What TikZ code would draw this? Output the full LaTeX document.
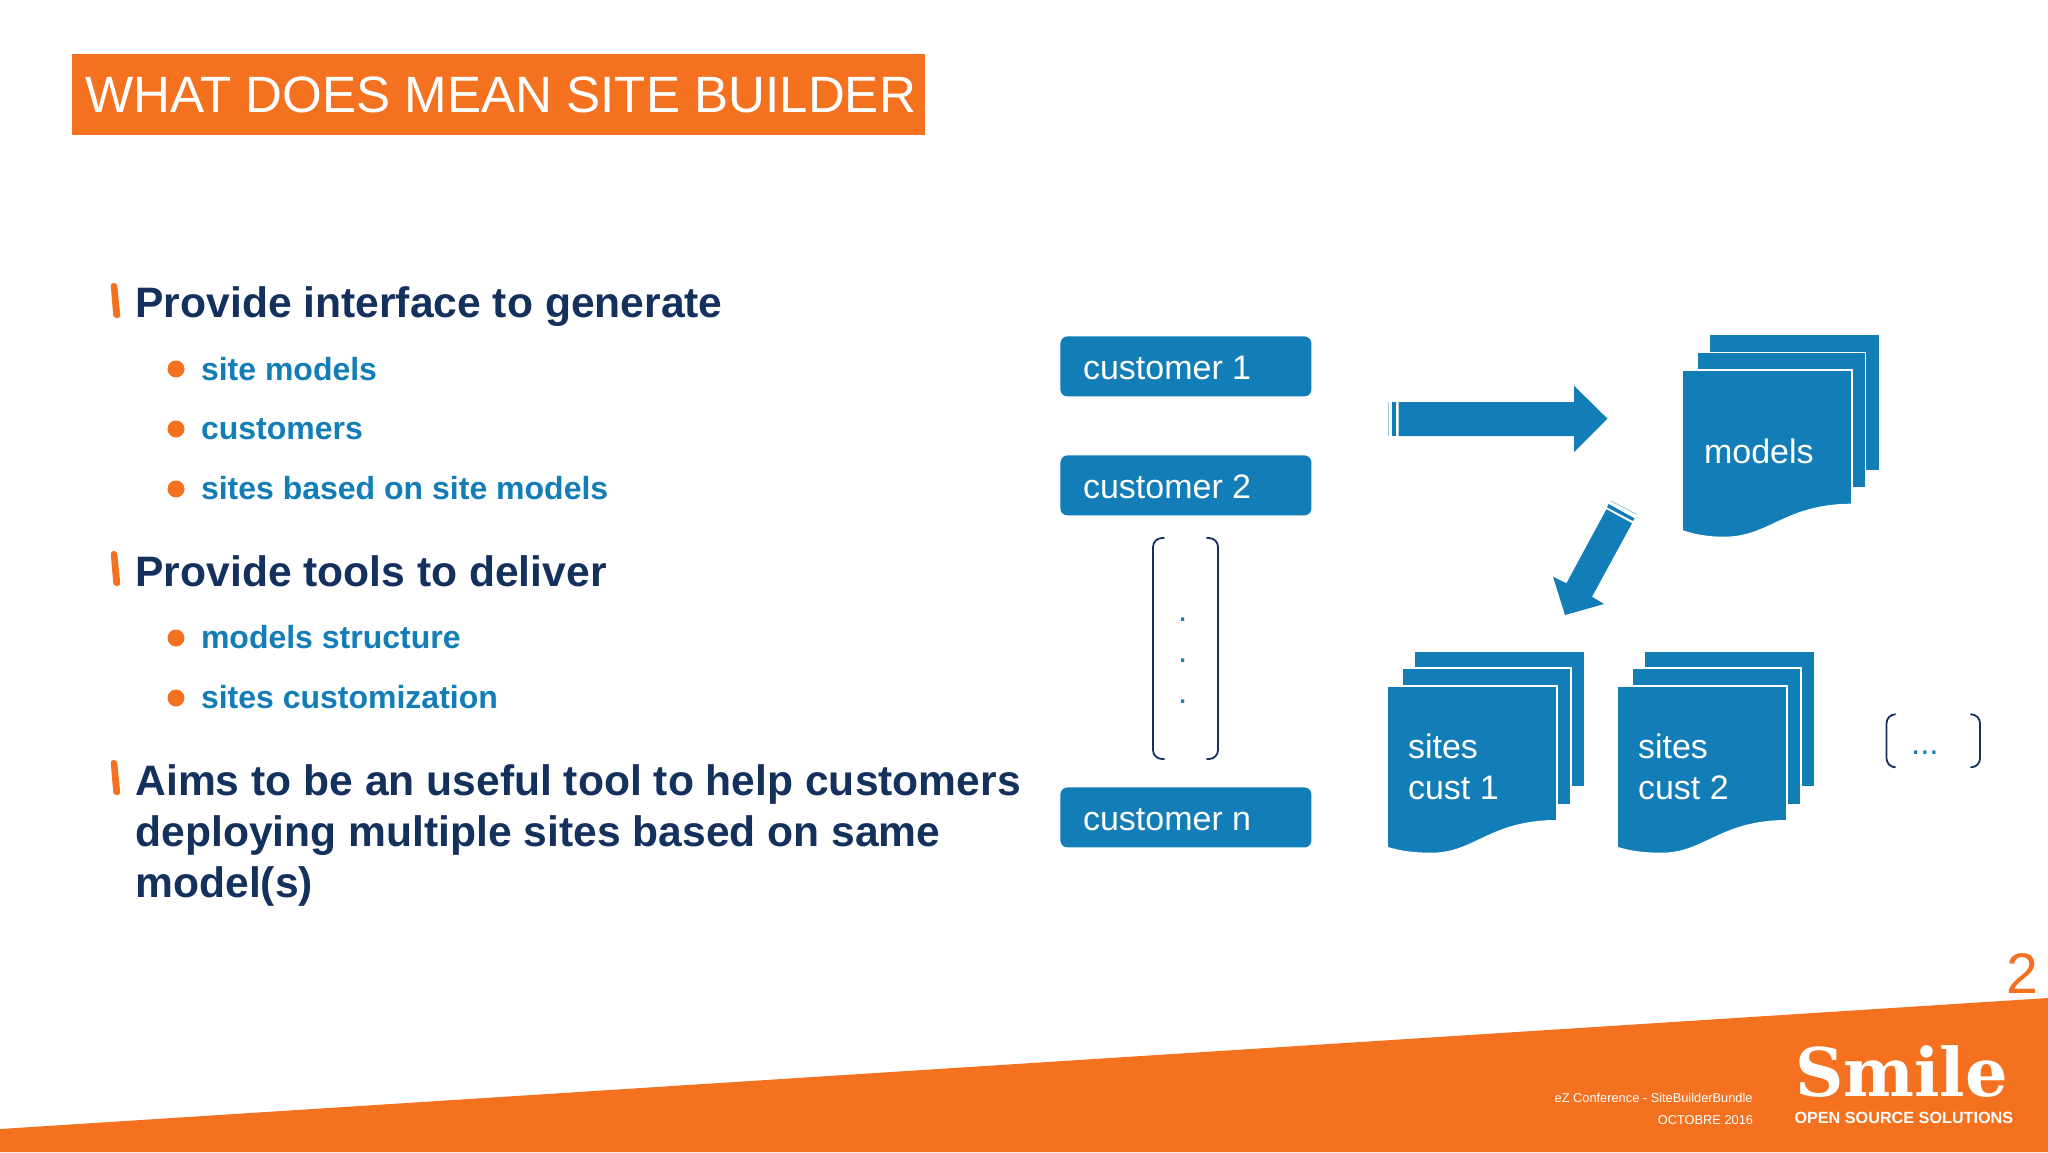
\documentclass[tikz,border=0pt]{standalone}
\usepackage{fontspec}
\setmainfont{Liberation Sans}
\newfontfamily\slabfont{DejaVu Serif}
\definecolor{smorange}{HTML}{F47120}
\definecolor{smblue}{HTML}{127DB6}
\definecolor{smnavy}{HTML}{14315E}
\tikzset{
  txt/.style={inner sep=0pt,outer sep=0pt,anchor=base west},
  txtr/.style={inner sep=0pt,outer sep=0pt,anchor=base east},
  head/.style={txt,font=\fontsize{21.3}{25}\selectfont\bfseries,text=smnavy},
  sub/.style={txt,font=\fontsize{16}{19}\selectfont\bfseries,text=smblue},
  wlabel/.style={txt,font=\fontsize{17}{20}\selectfont,text=white},
  custbox/.style={draw=none,fill=smblue,rounded corners=3.5pt,minimum width=125.5pt,minimum height=30pt,inner sep=0pt,anchor=north west},
  bul/.style={circle,fill=smorange,minimum size=8.5pt,inner sep=0pt},
  sheet/.style={fill=smblue,draw=white,line width=0.8pt},
  brack/.style={draw=smnavy,line width=0.9pt,line cap=round,rounded corners=4.5pt},
}
\begin{document}
\begin{tikzpicture}[x=0.5pt,y=-0.5pt]
\useasboundingbox (0,0) rectangle (2048,1152);
\fill[white] (0,0) rectangle (2048,1152);
% footer
\fill[smorange] (0,1129) -- (2048,998) -- (2048,1152) -- (0,1152) -- cycle;
% title
\fill[smorange] (72,54) rectangle (925,135);
\node[txt,text=white,font=\fontsize{25.55}{30}\selectfont] (title) at (85,112) {WHAT DOES MEAN SITE BUILDER};
% left text
\foreach \dy in {0,268,477}{
  \fill[smorange,rounded corners=1.5pt] (110.5,283+\dy) -- (117,283+\dy) -- (120.5,318+\dy) -- (113.5,318+\dy) -- cycle;
}
\node[head] (h1) at (135.5,317) {Provide interface to generate};
\node[bul] (b1) at (176,369) {};
\node[sub] (s1) at (201,380) {site models};
\node[bul] (b2) at (176,429) {};
\node[sub] (s2) at (201,439) {customers};
\node[bul] (b3) at (176,489) {};
\node[sub] (s3) at (201,499) {sites based on site models};
\node[head] (h2) at (135.5,586) {Provide tools to deliver};
\node[bul] (b4) at (176,638) {};
\node[sub] (s4) at (201,648) {models structure};
\node[bul] (b5) at (176,698) {};
\node[sub] (s5) at (201,708) {sites customization};
\node[head] (h3a) at (135.5,795) {Aims to be an useful tool to help customers};
\node[head] (h3b) at (135.5,846) {deploying multiple sites based on same};
\node[head] (h3c) at (135.5,897) {model(s)};
% customers
\node[custbox] (c1) at (1060,336) {};
\node[wlabel] (c1t) at (1083,379) {customer 1};
\node[custbox] (c2) at (1060,455) {};
\node[wlabel] (c2t) at (1083,498) {customer 2};
\node[custbox] (cn) at (1060,787) {};
\node[wlabel] (cnt) at (1083,830) {customer n};
% vertical bracket
\draw[brack] (1164,538) -- (1153,538) -- (1153,759) -- (1164,759);
\draw[brack] (1207,538) -- (1218,538) -- (1218,759) -- (1207,759);
\node[txt,font=\fontsize{16.6}{20}\selectfont,text=smblue] (d1) at (1178,621) {.};
\node[txt,font=\fontsize{16.6}{20}\selectfont,text=smblue] (d2) at (1178,662) {.};
\node[txt,font=\fontsize{16.6}{20}\selectfont,text=smblue] (d3) at (1178,703) {.};
% horizontal block arrow
\fill[smblue] (1398.6,402) -- (1574,402) -- (1574,385.7) -- (1607.5,418.7) -- (1574,452) -- (1574,436) -- (1398.6,436) -- cycle;
\fill[smblue] (1392,402) rectangle (1396,436);
\fill[smblue!45] (1387.5,402) rectangle (1388.3,436);
% diagonal block arrow
\fill[smblue] (1606.4,509.3) -- (1632,523.3) -- (1592,596.7) -- (1604,604) -- (1565,615) -- (1553,576.7) -- (1566.4,583.3) -- cycle;
\fill[smblue] (1608.5,504) -- (1634.5,518.3) -- (1633,521) -- (1607,507.3) -- cycle;
\draw[smblue!45,line width=0.4pt] (1611,501) -- (1636,514);
% models stack
\path[sheet] (1709.6,334.5) rectangle (1880,470.5);
\path[sheet] (1697.5,352.3) rectangle (1865.4,488);
\path[sheet] (1682,370) -- (1852,370) -- (1852,504.5) .. controls (1785,504.5) and (1770,537.5) .. (1724,537.5) .. controls (1708,537.5) and (1695,535.3) .. (1682,530.8) -- cycle;
\node[wlabel] (mt) at (1704,463) {models};
% sites stacks
\foreach \sx/\name in {0/1,230/2}{
  \begin{scope}[xshift=\sx*0.5pt]
  \path[sheet] (1414.4,651) rectangle (1584.5,786.5);
  \path[sheet] (1401.7,667.7) rectangle (1570.8,804.5);
  \path[sheet] (1387,686) -- (1557,686) -- (1557,820.8) .. controls (1490,820.8) and (1475,853.5) .. (1431.5,853.5) .. controls (1415,853.5) and (1400,851.8) .. (1387,847.5) -- cycle;
  \node[wlabel] (st\name) at (1408,758) {sites};
  \node[wlabel] (ct\name) at (1408,799.5) {cust \name};
  \end{scope}
}
% small bracket
\draw[brack] (1895,714.3) -- (1886.5,714.3) -- (1886.5,767.3) -- (1895,767.3);
\draw[brack] (1971,714.3) -- (1980,714.3) -- (1980,767.3) -- (1971,767.3);
\node[txt,font=\fontsize{16.6}{20}\selectfont,text=smblue] (dots) at (1911,754) {...};
% page number and footer
\node[txt,font=\fontsize{28.6}{32}\selectfont,text=smorange] (pg) at (2006,993) {2};
\node[txtr,font=\fontsize{6.4}{8}\selectfont,text=white] (f1) at (1752.5,1102) {eZ Conference - SiteBuilderBundle};
\node[txtr,font=\fontsize{6.4}{8}\selectfont,text=white] (f2) at (1753,1124) {OCTOBRE 2016};
\node[txt,font=\fontsize{33.5}{38}\slabfont\bfseries\selectfont,text=white] (logo) at (1795,1096) {Smile};
\node[txt,font=\fontsize{8.1}{10}\selectfont\bfseries,text=white] (logos) at (1794.5,1123) {OPEN SOURCE SOLUTIONS};
\end{tikzpicture}
\end{document}
